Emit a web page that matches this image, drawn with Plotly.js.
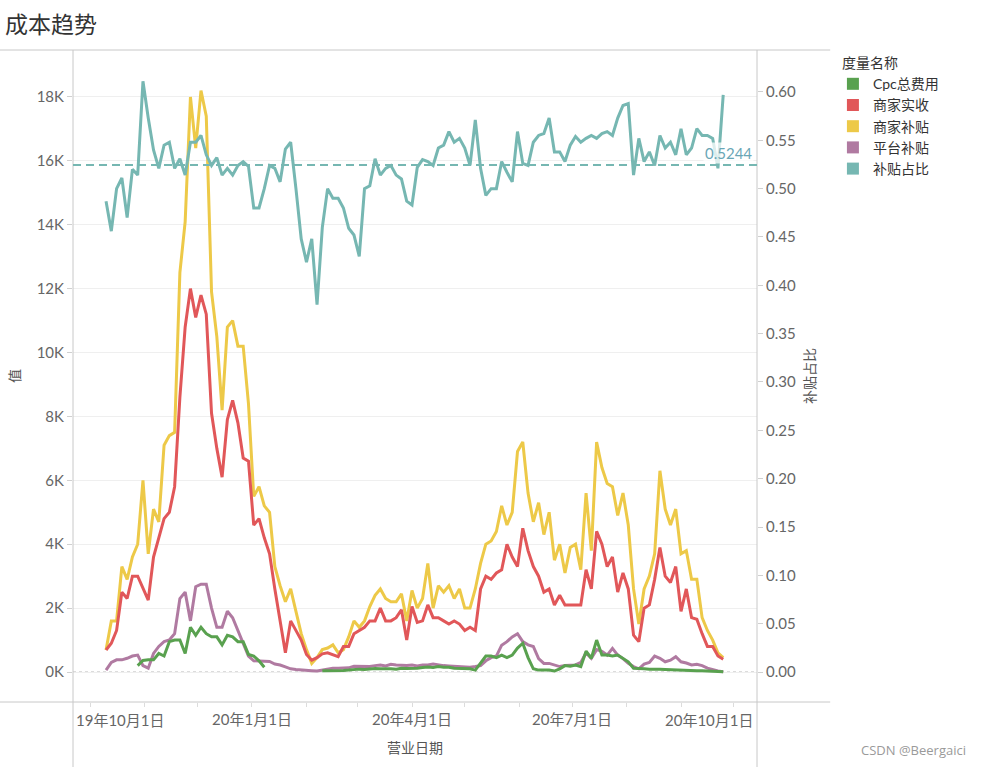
<!DOCTYPE html>
<html>
<head>
<meta charset="utf-8">
<script src="https://cdn.plot.ly/plotly-3.0.1.min.js"></script>
<style>
  html, body { margin: 0; padding: 0; background: #fff; }
  #chart { width: 983px; height: 767px; }
</style>
</head>
<body>
<div id="chart"></div>
<script>
// sampled every 3 days, starting 2019-10-10
var startDate = '2019-10-10';
var stepDays = 3;

// values in K (thousands)
var merchantSubsidy = [0.69,1.6,1.6,3.3,2.9,3.6,4.0,6.0,3.7,5.1,4.7,7.1,7.4,7.5,12.5,14.1,18.0,16.4,18.2,17.4,
  11.9,10.5,8.2,10.8,11.0,10.2,10.2,8.4,5.5,5.8,5.2,5.0,3.3,2.7,2.2,2.6,1.9,1.2,0.7,0.27,
  0.45,0.7,0.75,0.85,0.6,0.7,1.1,1.6,1.4,1.6,2.05,2.4,2.6,2.3,2.2,2.2,2.45,1.6,2.55,2.0,
  2.3,3.4,2.0,2.7,2.5,2.7,2.3,2.6,2.0,2.0,2.6,3.4,4.0,4.1,4.4,5.2,4.6,5.0,6.9,7.2,
  5.6,4.7,5.3,4.3,5.0,3.5,4.0,3.1,3.9,4.0,3.2,5.6,3.8,7.2,6.4,5.9,5.8,4.9,5.6,4.6,
  2.6,1.5,2.6,3.0,3.7,6.3,5.1,4.6,5.1,3.7,3.8,2.9,2.9,1.7,1.3,1.0,0.6,0.45];

var merchantIncome = [0.69,0.9,1.3,2.5,2.3,3.0,3.0,2.6,2.25,3.6,4.2,4.8,5.0,5.8,8.6,10.8,12.0,11.1,11.8,11.2,
  8.1,7.0,6.1,7.9,8.5,7.8,6.7,6.6,4.6,4.8,4.2,3.7,2.6,1.6,0.6,1.6,1.3,1.0,0.55,0.37,
  0.45,0.57,0.6,0.55,0.48,0.8,0.8,1.2,1.3,1.4,1.6,1.6,2.0,1.6,1.6,1.7,1.95,1.0,2.05,1.55,
  1.6,2.1,1.7,1.7,1.6,1.5,1.6,1.5,1.3,1.4,1.3,2.6,3.0,2.9,3.1,3.2,4.0,3.6,3.3,4.5,
  3.8,3.3,3.0,2.5,2.6,2.1,2.4,2.1,2.1,2.1,2.1,3.2,2.6,4.4,4.0,3.3,3.6,2.5,3.1,2.6,
  1.15,0.95,2.0,2.1,2.9,3.9,3.0,2.8,3.3,1.9,2.6,1.7,1.65,1.2,0.8,0.8,0.5,0.4];

var platformSubsidy = [0.06,0.3,0.38,0.38,0.43,0.5,0.53,0.2,0.12,0.58,0.8,0.95,1.0,1.2,2.3,2.5,1.6,2.67,2.75,2.75,
  2.0,1.4,1.4,1.9,1.7,1.3,0.95,0.5,0.35,0.34,0.34,0.33,0.25,0.22,0.16,0.1,0.08,0.06,0.05,0.04,
  0.03,0.06,0.1,0.12,0.12,0.12,0.13,0.18,0.17,0.18,0.17,0.2,0.22,0.19,0.24,0.22,0.2,0.2,0.22,0.19,
  0.22,0.22,0.25,0.22,0.2,0.19,0.18,0.17,0.15,0.15,0.17,0.2,0.35,0.45,0.5,0.84,0.95,1.1,1.2,0.95,
  0.85,0.8,0.42,0.27,0.27,0.22,0.17,0.2,0.22,0.22,0.3,0.6,0.43,0.7,0.65,0.53,0.74,0.53,0.42,0.27,
  0.17,0.1,0.25,0.3,0.5,0.43,0.32,0.37,0.48,0.32,0.28,0.22,0.24,0.2,0.12,0.07,0.03,0.01];

var cpcCost = [null,null,null,null,null,null,0.2,0.36,0.38,0.38,0.58,0.5,0.95,1.0,1.0,0.58,1.4,1.15,1.4,1.2,
  1.1,1.1,0.85,1.15,1.1,0.95,0.95,0.55,0.5,0.35,0.15,null,null,null,null,null,null,null,null,null,
  null,0.04,0.04,0.03,0.04,0.05,0.06,0.08,0.09,0.08,0.1,0.11,0.1,0.11,0.1,0.09,0.12,0.11,0.11,0.12,
  0.14,0.16,0.14,0.17,0.15,0.15,0.12,0.11,0.1,0.1,0.06,0.3,0.5,0.5,0.45,0.53,0.45,0.53,0.75,0.9,
  0.45,0.1,0.06,0.06,0.06,0.03,0.1,0.2,0.18,0.22,0.17,0.65,0.43,1.0,0.53,0.53,0.5,0.53,0.43,0.32,
  0.12,0.1,0.1,0.09,0.1,0.09,0.08,0.07,0.06,0.06,0.05,0.04,0.04,0.04,0.03,0.03,0.02,0.01];

var subsidyRatio = [0.487,0.456,0.5,0.511,0.47,0.52,0.514,0.611,0.573,0.54,0.521,0.545,0.548,0.521,0.531,0.514,0.548,0.548,0.555,0.535,
  0.524,0.532,0.514,0.521,0.514,0.524,0.528,0.523,0.48,0.48,0.5,0.524,0.521,0.507,0.541,0.548,0.5,0.448,0.424,0.448,
  0.38,0.46,0.5,0.49,0.49,0.48,0.459,0.452,0.43,0.5,0.503,0.531,0.514,0.521,0.524,0.514,0.51,0.487,0.483,0.522,
  0.53,0.528,0.524,0.542,0.545,0.559,0.548,0.552,0.542,0.524,0.571,0.521,0.493,0.5,0.5,0.528,0.517,0.507,0.559,0.526,
  0.524,0.548,0.555,0.557,0.573,0.538,0.538,0.528,0.545,0.554,0.548,0.552,0.555,0.552,0.557,0.559,0.555,0.573,0.586,0.588,
  0.514,0.552,0.528,0.538,0.524,0.555,0.542,0.548,0.535,0.562,0.535,0.542,0.562,0.555,0.555,0.552,0.521,0.597];

var ratioRef = 0.5244;

var leftTicks = [0,2,4,6,8,10,12,14,16,18];
var leftText = ['0K','2K','4K','6K','8K','10K','12K','14K','16K','18K'];
var rightTicks = [0,0.05,0.1,0.15,0.2,0.25,0.3,0.35,0.4,0.45,0.5,0.55,0.6];

var monthTicks = ['2019-10-01','2019-11-01','2019-12-01','2020-01-01','2020-02-01','2020-03-01','2020-04-01',
  '2020-05-01','2020-06-01','2020-07-01','2020-08-01','2020-09-01','2020-10-01'];
var monthText = ['','','','20年1月1日','','','20年4月1日','','','20年7月1日','','',''];

var dates = [];
var d0 = new Date(startDate + 'T00:00:00Z');
for (var i = 0; i < subsidyRatio.length; i++) {
  var d = new Date(d0.getTime() + i * stepDays * 86400000);
  dates.push(d.toISOString().slice(0, 10));
}

var cGreen = '#59a14f', cRed = '#e15759', cYellow = '#edc948', cPurple = '#b07aa1', cTeal = '#76b7b2';
var font = "Lato, 'Noto Sans CJK SC', sans-serif";

function line(name, y, color, axis) {
  return { x: dates, y: y, name: name, type: 'scatter', mode: 'lines', yaxis: axis,
    line: { color: color, width: 3 }, showlegend: false, hoverinfo: 'x+y+name' };
}
function key(name, color) {
  return { x: [null], y: [null], name: name, type: 'bar', marker: { color: color }, hoverinfo: 'skip' };
}

var data = [
  line('平台补贴', platformSubsidy, cPurple, 'y'),
  line('商家补贴', merchantSubsidy, cYellow, 'y'),
  line('商家实收', merchantIncome, cRed, 'y'),
  line('Cpc总费用', cpcCost, cGreen, 'y'),
  line('补贴占比', subsidyRatio, cTeal, 'y2'),
  key('Cpc总费用', cGreen),
  key('商家实收', cRed),
  key('商家补贴', cYellow),
  key('平台补贴', cPurple),
  key('补贴占比', cTeal)
];

var border = '#c8c8c8';
var layout = {
  width: 983, height: 767,
  margin: { l: 73, r: 226, t: 50, b: 65 },
  paper_bgcolor: '#fff', plot_bgcolor: '#fff',
  font: { family: font, color: '#666', size: 14 },
  title: { text: '成本趋势', x: 0.005, xref: 'container', xanchor: 'left', y: 0.968, yanchor: 'middle',
    font: { family: font, size: 23, color: '#333' } },
  showlegend: true,
  legend: { x: 1.111, xanchor: 'left', y: 1.0, yanchor: 'top', traceorder: 'normal', tracegroupgap: 0,
    title: { text: '\u00a0\u00a0度量名称', font: { size: 14, color: '#333' } },
    font: { size: 14, color: '#333' }, itemwidth: 30, bgcolor: 'rgba(0,0,0,0)' },
  xaxis: {
    type: 'date', range: ['2019-09-21 05:00', '2020-10-14 05:00'],
    tickvals: monthTicks, ticktext: monthText, tickangle: 0,
    ticks: 'outside', ticklen: 4, tickcolor: '#dcdcdc',
    tickfont: { size: 15, color: '#666' },
    showgrid: false, zeroline: false, showline: false,
    title: { text: '营业日期', standoff: 16, font: { size: 14, color: '#555' } }
  },
  yaxis: {
    range: [-0.939, 19.47], tickvals: leftTicks, ticktext: leftText,
    ticks: 'outside', ticklen: 5, tickcolor: '#d0d0d0',
    tickfont: { size: 15, color: '#666' },
    showgrid: true, gridcolor: '#efefef', gridwidth: 1, zeroline: false, showline: false,
    title: { text: '值', standoff: 12, font: { size: 14, color: '#555' } }
  },
  yaxis2: {
    overlaying: 'y', side: 'right', range: [-0.031, 0.6434],
    tickvals: rightTicks, tickformat: '.2f',
    ticks: 'outside', ticklen: 5, tickcolor: '#d0d0d0',
    tickfont: { size: 15, color: '#666' },
    showgrid: false, zeroline: false, showline: false,
    title: { text: '补贴占比', standoff: 10, font: { size: 14, color: '#555' } }
  },
  shapes: [
    { type: 'line', xref: 'paper', yref: 'paper', x0: -0.107, x1: 1.107, y0: 1, y1: 1, line: { color: border, width: 1 } },
    { type: 'line', xref: 'paper', yref: 'paper', x0: -0.107, x1: 1.107, y0: 0, y1: 0, line: { color: border, width: 1 } },
    { type: 'line', xref: 'paper', yref: 'paper', x0: 0, x1: 0, y0: 1, y1: -0.1, line: { color: border, width: 1 } },
    { type: 'line', xref: 'paper', yref: 'paper', x0: 1, x1: 1, y0: 1, y1: -0.1, line: { color: border, width: 1 } },
    { type: 'line', xref: 'paper', yref: 'y', x0: 0, x1: 1, y0: 0, y1: 0, layer: 'below', line: { color: '#b8b8b8', width: 1, dash: 'dot' } },
    { type: 'line', xref: 'paper', yref: 'y2', x0: 0, x1: 1, y0: ratioRef, y1: ratioRef, line: { color: cTeal, width: 2, dash: '8px,5px' } }
  ],
  annotations: [
    { text: '0.5244', xref: 'paper', x: 1, xanchor: 'right', xshift: -3, yref: 'y2', y: ratioRef, yanchor: 'bottom', yshift: 1,
      showarrow: false, font: { size: 15, color: '#6aa6b6' }, bgcolor: 'rgba(255,255,255,0.75)' },
    { text: '19年10月1日', xref: 'paper', x: 0, xanchor: 'left', xshift: 1, yref: 'paper', y: -0.028, yanchor: 'middle',
      showarrow: false, font: { size: 15, color: '#666' } },
    { text: '20年10月1日', xref: 'paper', x: 1, xanchor: 'right', xshift: -1, yref: 'paper', y: -0.028, yanchor: 'middle',
      showarrow: false, font: { size: 15, color: '#666' } },
    { text: 'CSDN @Beergaici', xref: 'paper', x: 1.309, xanchor: 'right', yref: 'paper', y: -0.074, yanchor: 'middle',
      showarrow: false, font: { family: "'Open Sans', sans-serif", size: 13, color: '#9a9a9a' } }
  ]
};

Plotly.newPlot('chart', data, layout, { displayModeBar: false, staticPlot: true });
</script>
</body>
</html>
